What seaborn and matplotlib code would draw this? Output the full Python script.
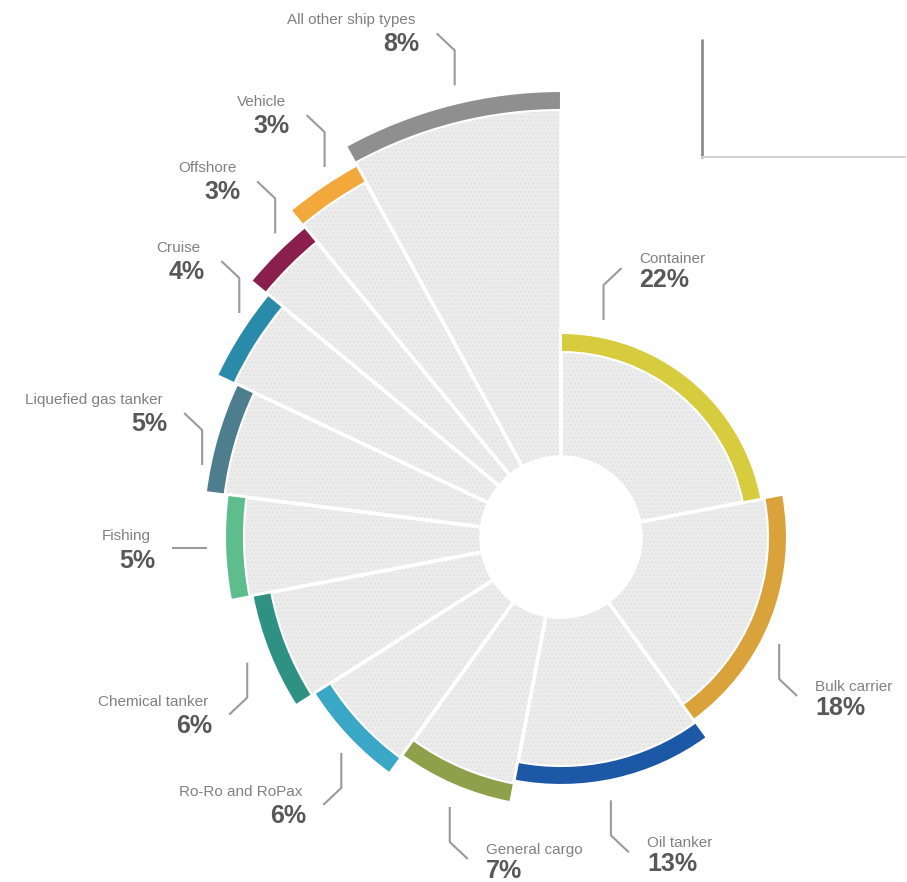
import numpy as np
import matplotlib
matplotlib.use("Agg")
import matplotlib.pyplot as plt
import seaborn as sns

# share of ship types, clockwise from 12 o'clock
CATEGORIES = [
    "Container", "Bulk carrier", "Oil tanker", "General cargo",
    "Ro-Ro and RoPax", "Chemical tanker", "Fishing", "Liquefied gas tanker",
    "Cruise", "Offshore", "Vehicle", "All other ship types",
]
SHARES = [22, 18, 13, 7, 6, 6, 5, 5, 4, 3, 3, 8]
COLORS = [
    "#d6cc3e", "#d9a23a", "#1d58a6", "#8fa04a", "#3ba7c7", "#2f9182",
    "#5dbd8d", "#4e7d8d", "#2a8aa9", "#8a1f4d", "#f2a83a", "#8f8f8f",
]

# label layout: where the leader leaves the wedge (fraction of its angle),
# gap from the band, and which way the elbow turns (h, v); v=0 -> flat
LEADER_FRAC = [0.14, 0.57, 0.54, 0.46, 0.44, 0.49, 0.5, 0.23, 0.67, 0.66, 0.65, 0.54]
LEADER_GAP = [17, 17, 20, 22, 16, 24, 18, 8, 12, 15, 15, 18]
LEADER_DIR = [(1, -1), (1, 1), (1, 1), (1, 1), (-1, 1), (-1, 1),
              (-1, 0), (-1, -1), (-1, -1), (-1, -1), (-1, -1), (-1, -1)]

W, H = 907, 882
CX, CY = 561, 537
RMAX = 470
HOLE = 80
R_FIRST, R_STEP = 204, 22
BAND = 19

sns.set_theme(style="white")
plt.rcParams["font.family"] = ["Liberation Sans", "DejaVu Sans"]
plt.rcParams["patch.force_edgecolor"] = False
plt.rcParams["hatch.color"] = "#e1e1e1"
plt.rcParams["hatch.linewidth"] = 0.8

palette = sns.color_palette(COLORS)

fig = plt.figure(figsize=(W / 100, H / 100), dpi=100)
fig.patch.set_facecolor("white")
ax = fig.add_axes([(CX - RMAX) / W, (H - CY - RMAX) / H, 2 * RMAX / W, 2 * RMAX / H],
                  projection="polar")
ax.set_theta_zero_location("N")
ax.set_theta_direction(-1)
ax.set_ylim(0, RMAX)
ax.axis("off")

n = len(SHARES)
shares = np.array(SHARES, dtype=float)
widths = shares / shares.sum() * 2 * np.pi
starts = np.concatenate([[0], np.cumsum(widths)[:-1]])
r_outer = R_FIRST + R_STEP * np.arange(n)

# grey wedges with a faint dotted texture, white gaps between them
ax.bar(starts, r_outer - HOLE, width=widths, bottom=HOLE, align="edge",
       color="#ececec", hatch="....", linewidth=0)
ax.bar(starts, r_outer - HOLE, width=widths, bottom=HOLE, align="edge",
       facecolor="none", edgecolor="white", linewidth=2.5)
# coloured rim
ax.bar(starts, BAND, width=widths, bottom=r_outer - BAND, align="edge",
       color=palette, edgecolor="white", linewidth=1.5)

ov = fig.add_axes([0, 0, 1, 1], facecolor="none")
ov.set_xlim(0, W)
ov.set_ylim(H, 0)
ov.axis("off")


def to_px(theta, r):
    disp = ax.transData.transform((theta, r))
    return ov.transData.inverted().transform(disp)


LINE_C = "#9a9a9a"
SEG1, DX, DY = 35, 18, 17
for i in range(n):
    th = starts[i] + LEADER_FRAC[i] * widths[i]
    x0, y0 = to_px(th, r_outer[i] + LEADER_GAP[i])
    h, v = LEADER_DIR[i]
    if v == 0:
        xs = [x0, x0 + h * SEG1]
        ys = [y0, y0]
    else:
        xs = [x0, x0, x0 + h * DX]
        ys = [y0, y0 + v * SEG1, y0 + v * (SEG1 + DY)]
    ov.plot(xs, ys, color=LINE_C, lw=1.5, solid_capstyle="butt")
    ex, ey = xs[-1], ys[-1]
    if h > 0:
        tx, ha, pdx = ex + 18, "left", 0
        ny, py = ey - 9, ey + 12
    else:
        tx, ha, pdx = ex - 21, "right", 4
        ny, py = ey - 13, ey + 11
    if v == 0:
        ny, py = ey - 12, ey + 13
    ov.text(tx, ny, CATEGORIES[i], ha=ha, va="center", fontsize=11,
            color="#808080")
    ov.text(tx + pdx, py, f"{SHARES[i]}%", ha=ha, va="center", fontsize=18,
            fontweight="bold", color="#585858")

# stray frame lines in the top right corner of the source
ov.plot([702, 702], [40, 157], color="#8c8c8c", lw=2)
ov.plot([702, 905], [157, 157], color="#d2d2d2", lw=1.5)

fig.savefig("out.png", dpi=100, facecolor="white")
